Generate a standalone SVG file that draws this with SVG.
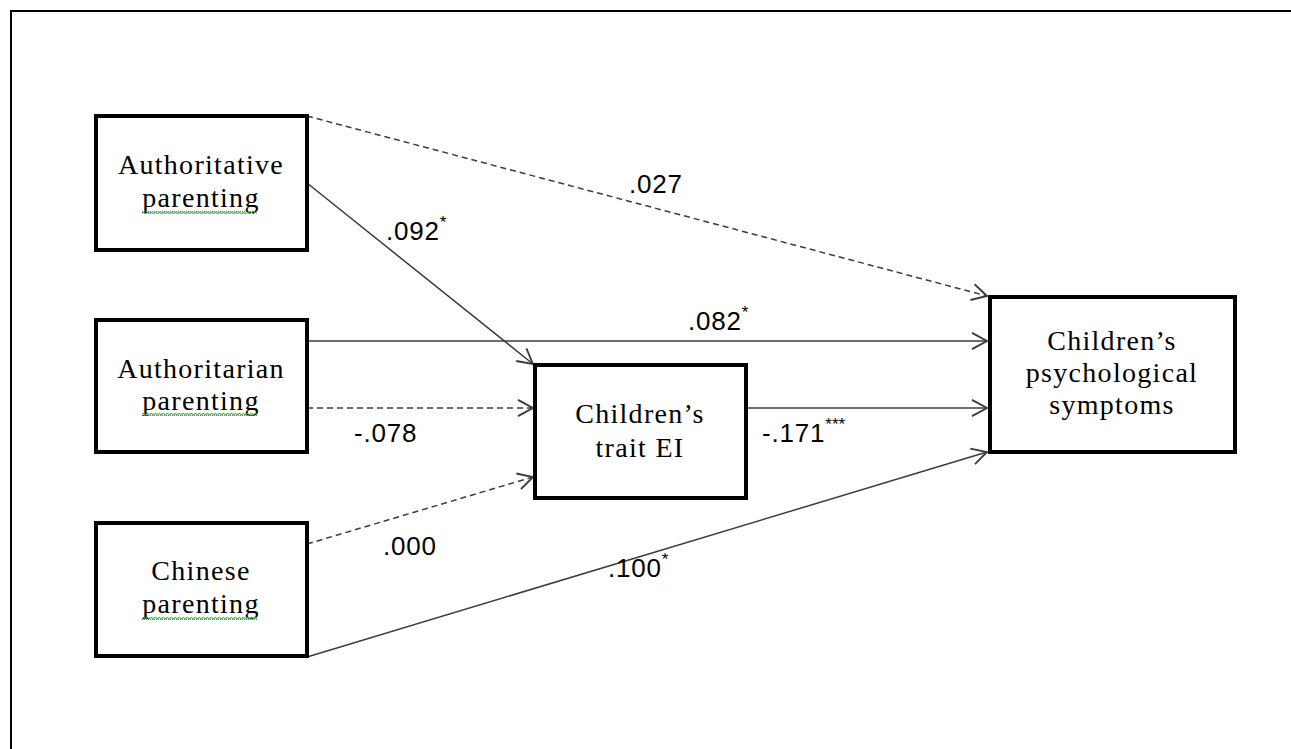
<svg xmlns="http://www.w3.org/2000/svg" width="1291" height="749" viewBox="0 0 1291 749">
<defs>
<style>
.box{fill:#fff;stroke:#000;stroke-width:4}
.nt{font-family:"Liberation Serif","Times New Roman",serif;font-size:28px;fill:#000;text-anchor:middle;letter-spacing:1.3px}
.lb{font-family:"Liberation Sans",Arial,sans-serif;font-size:26px;fill:#000;letter-spacing:0.8px}
.sup{font-size:17px;letter-spacing:0}
.ln{fill:none;stroke:#3c3c3c;stroke-width:1.5}
.dash{stroke-dasharray:6 4}
.wavy{fill:url(#wave)}
</style>
<marker id="arr" markerUnits="userSpaceOnUse" markerWidth="20" markerHeight="20" viewBox="-14 -8 16 16" refX="0" refY="0" orient="auto">
<path d="M-12,-6.5 L0,0 L-12,6.5" fill="none" stroke="#3c3c3c" stroke-width="1.5"/>
</marker>
<pattern id="wave" patternUnits="userSpaceOnUse" width="4" height="3">
<polyline points="0,2.5 1,0.5 2,0.5 3,2.5 4,2.5" fill="none" stroke="#3aa63a" stroke-width="1.1"/>
</pattern>
</defs>
<rect x="0" y="0" width="1291" height="749" fill="#fff"/>
<path d="M11,760 L11,11 L1300,11" fill="none" stroke="#000" stroke-width="2"/>
<g id="connectors">
<line class="ln dash" x1="307" y1="116" x2="987" y2="296" marker-end="url(#arr)"/>
<line class="ln" x1="307" y1="183" x2="533" y2="364" marker-end="url(#arr)"/>
<line class="ln" x1="307" y1="341" x2="987" y2="341" marker-end="url(#arr)"/>
<line class="ln dash" x1="307" y1="408" x2="533" y2="408" marker-end="url(#arr)"/>
<line class="ln dash" x1="307" y1="544" x2="533" y2="477" marker-end="url(#arr)"/>
<line class="ln" x1="307" y1="657" x2="987" y2="452" marker-end="url(#arr)"/>
<line class="ln" x1="746" y1="408" x2="987" y2="408" marker-end="url(#arr)"/>
<text class="lb" x="629" y="193">.027</text>
<text class="lb" x="386" y="240">.092<tspan class="sup" dy="-12">*</tspan></text>
<text class="lb" x="688" y="330">.082<tspan class="sup" dy="-12">*</tspan></text>
<text class="lb" x="354" y="442">-.078</text>
<text class="lb" x="762" y="442">-.171<tspan class="sup" dy="-12">***</tspan></text>
<text class="lb" x="383" y="555">.000</text>
<text class="lb" x="608" y="577">.100<tspan class="sup" dy="-12">*</tspan></text>
</g>
<g id="authoritative">
<rect class="box" x="96" y="116" width="211" height="134"/>
<text class="nt" x="201" y="174">Authoritative</text>
<text class="nt" x="201" y="207">parenting</text>
<rect class="wavy" x="142" y="211" width="115" height="3"/>
</g>
<g id="authoritarian">
<rect class="box" x="96" y="320" width="211" height="132"/>
<text class="nt" x="201" y="378">Authoritarian</text>
<text class="nt" x="201" y="410">parenting</text>
<rect class="wavy" x="142" y="413" width="115" height="3"/>
</g>
<g id="chinese">
<rect class="box" x="96" y="523" width="211" height="133"/>
<text class="nt" x="201" y="580">Chinese</text>
<text class="nt" x="201" y="613">parenting</text>
<rect class="wavy" x="142" y="617" width="115" height="3"/>
</g>
<g id="traitEI">
<rect class="box" x="535" y="365" width="211" height="133"/>
<text class="nt" x="640" y="423">Children’s</text>
<text class="nt" x="640" y="457">trait EI</text>
</g>
<g id="symptoms">
<rect class="box" x="990" y="297" width="245" height="155"/>
<text class="nt" x="1112" y="350">Children’s</text>
<text class="nt" x="1112" y="382">psychological</text>
<text class="nt" x="1112" y="414">symptoms</text>
</g>
</svg>
